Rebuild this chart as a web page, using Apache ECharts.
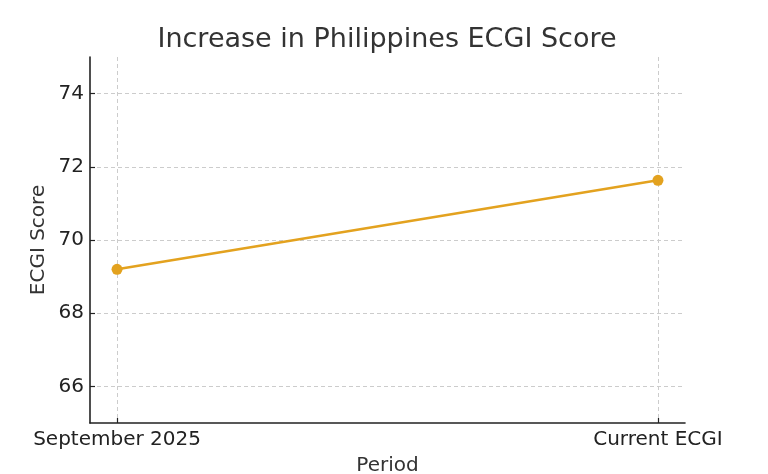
<!DOCTYPE html>
<html>
<head>
<meta charset="utf-8">
<script src="https://cdn.jsdelivr.net/npm/echarts@6/dist/echarts.min.js"></script>
<style>html,body{margin:0;padding:0;background:#fff}#c{width:768px;height:474px}</style>
</head>
<body>
<div id="c"></div>
<script>
const categories = ['September 2025', 'Current ECGI'];
const scores = [69.2, 71.63];
const yTicks = [66, 68, 70, 72, 74];

const chart = echarts.init(document.getElementById('c'), null, {renderer: 'canvas'});
const font = 'DejaVu Sans';
const xIdx = categories.map((_, i) => i);
chart.setOption({
  backgroundColor: '#ffffff',
  animation: false,
  title: {
    text: 'Increase in Philippines ECGI Score',
    left: 382, top: 21, textAlign: 'center',
    textStyle: {fontFamily: font, fontSize: 27, fontWeight: 'normal', color: '#333333'}
  },
  grid: {left: 90, right: 83, top: 57, bottom: 51, containLabel: false, outerBoundsMode: 'none'},
  xAxis: {
    type: 'value', min: -0.05, max: 1.05,
    name: 'Period', nameLocation: 'middle', nameGap: 33, nameMoveOverlap: false,
    nameTextStyle: {fontFamily: font, fontSize: 20, color: '#333333'},
    axisLine: {show: true, onZero: false, lineStyle: {color: '#222', width: 1.6}},
    axisTick: {show: true, inside: true, customValues: xIdx, length: 5, lineStyle: {color: '#222', width: 1.2}},
    axisLabel: {customValues: xIdx, fontFamily: font, fontSize: 20, color: '#222', margin: 7,
      formatter: v => categories[Math.round(v)]},
    splitLine: {show: true, lineStyle: {type: [4, 3], color: '#cccccc', width: 1}}
  },
  yAxis: {
    type: 'value', min: 65, max: 75,
    name: 'ECGI Score', nameLocation: 'middle', nameGap: 41, nameMoveOverlap: false,
    nameTextStyle: {fontFamily: font, fontSize: 20, color: '#333333'},
    axisLine: {show: true, onZero: false, lineStyle: {color: '#222', width: 1.6}},
    axisTick: {show: true, inside: true, customValues: yTicks, length: 5, lineStyle: {color: '#222', width: 1.2}},
    axisLabel: {customValues: yTicks, fontFamily: font, fontSize: 20, color: '#222', margin: 6},
    splitLine: {show: true, lineStyle: {type: [4, 3], color: '#cccccc', width: 1}}
  },
  series: [{
    type: 'line',
    data: scores.map((v, i) => [xIdx[i], v]),
    symbol: 'circle', symbolSize: 11,
    lineStyle: {color: '#E3A21F', width: 2.5},
    itemStyle: {color: '#E3A21F'}
  }]
});
</script>
</body>
</html>
